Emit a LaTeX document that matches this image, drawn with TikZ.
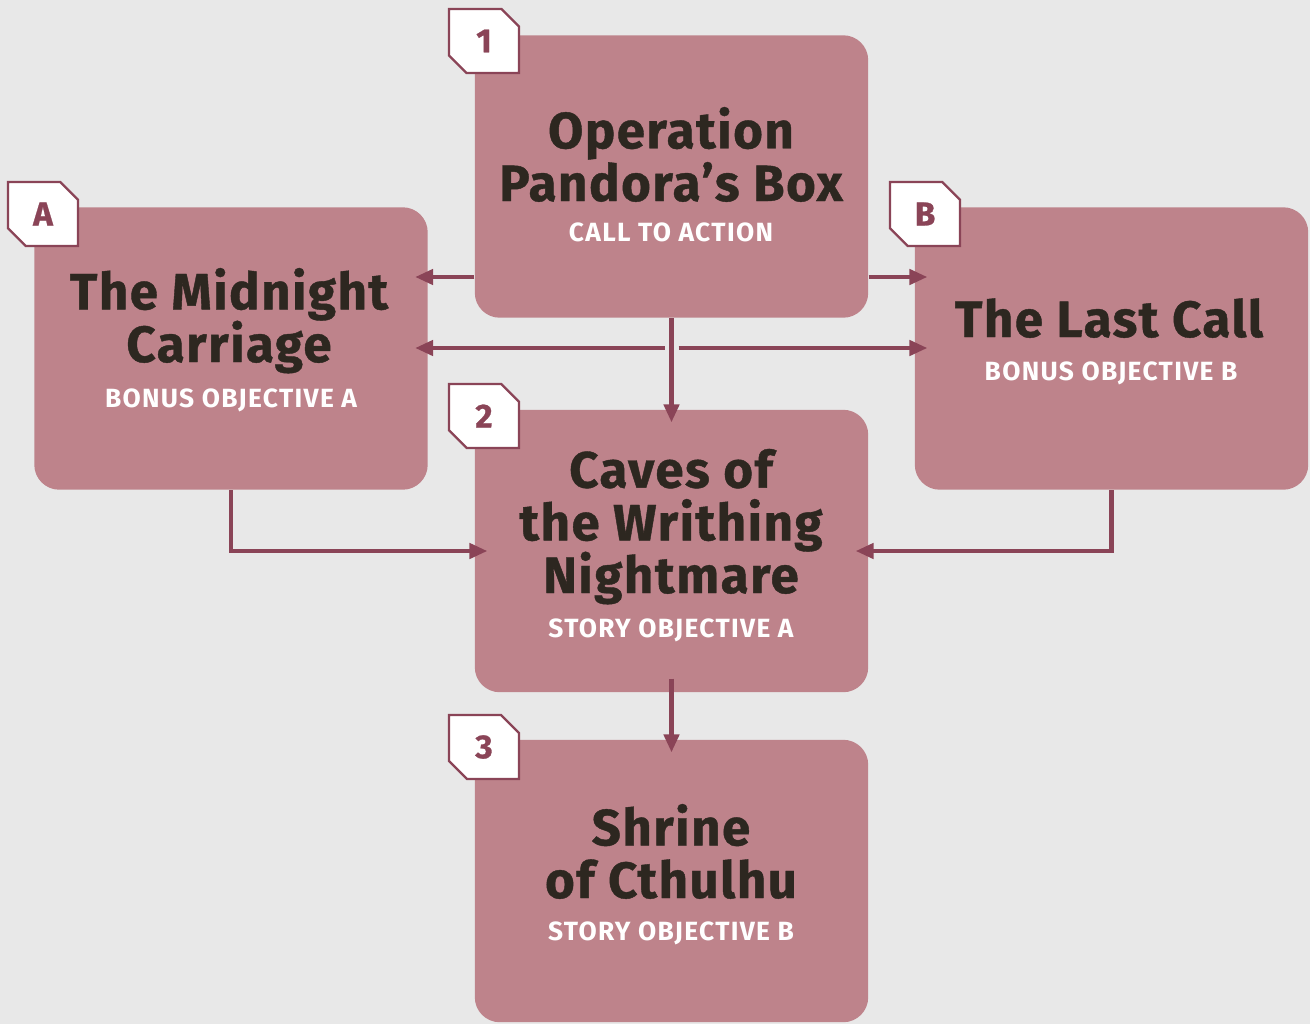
\documentclass[tikz,border=0pt]{standalone}
\usepackage{fontspec}
\setmainfont{Fira Sans}
\newfontfamily\titlefont[LetterSpace=3,BoldFeatures={FakeBold=0.8}]{Fira Sans}
\newfontfamily\subfont[LetterSpace=5]{Fira Sans}
\usetikzlibrary{arrows.meta,shapes.misc,positioning}
\definecolor{rose}{HTML}{BE838B}
\definecolor{wine}{HTML}{8A4457}
\definecolor{ink}{HTML}{2D2720}
\definecolor{paper}{HTML}{E8E8E8}

\tikzset{
  quest/.style={fill=rose, rounded corners=0.5cm, minimum width=7.87cm, minimum height=5.65cm, inner sep=0pt},
  tab/.style={chamfered rectangle, chamfered rectangle corners={north east,south west},
    chamfered rectangle xsep=0.36cm, draw=wine, line width=1.3pt, fill=white,
    minimum width=1.4cm, minimum height=1.28cm, inner sep=0pt, text=wine,
    font=\titlefont\bfseries\fontsize{19}{19}\selectfont},
  ttl/.style={text=ink, font=\titlefont\bfseries\fontsize{29}{30}\selectfont, align=center, inner sep=0pt},
  sub/.style={text=white, font=\subfont\bfseries\fontsize{15}{15}\selectfont, inner sep=0pt},
  link/.style={draw=wine, line width=2.5pt, -{Triangle[length=0.36cm,width=0.3cm]}, shorten >=-0.26cm},
}

\begin{document}
\begin{tikzpicture}[x=0.02cm, y=-0.02cm]
  \fill[paper] (0,0) rectangle (1310,1024);

  % quest boxes
  \node[quest] (call) at (671.5,176.5) {};
  \node[quest] (bonusA) at (231,348.5) {};
  \node[quest] (bonusB) at (1111.5,348.5) {};
  \node[quest] (storyA) at (671.5,551) {};
  \node[quest] (storyB) at (671.5,881) {};

  % connectors
  \coordinate (fork) at (call.south |- 0,348);
  \draw[link] (call.west |- 0,277) -- (bonusA.east |- 0,277);
  \draw[link] (call.east |- 0,277) -- (bonusB.west |- 0,277);
  \draw[link] (call.south) -- (storyA.north);
  \draw[link] ([xshift=-0.14cm]fork) -- (fork -| bonusA.east);
  \draw[link] ([xshift=0.14cm]fork) -- (fork -| bonusB.west);
  \draw[link] (bonusA.south) |- (storyA.west);
  \draw[link] (bonusB.south) |- (storyA.east);
  \draw[link] ([yshift=0.28cm]storyA.south) -- (storyB.north);

  % titles (base = last line)
  \node[ttl, anchor=base] (callT) at (671,201) {Operation\\Pandora’s Box};
  \node[sub, anchor=base] (callS) at (671,241) {CALL TO ACTION};
  \node[ttl, anchor=base] (bonusAT) at (229,362) {The Midnight\\Carriage};
  \node[sub, anchor=base] (bonusAS) at (231,407) {BONUS OBJECTIVE A};
  \node[ttl, anchor=base] (bonusBT) at (1109,337) {The Last Call};
  \node[sub, anchor=base] (bonusBS) at (1111,380) {BONUS OBJECTIVE B};
  \node[ttl, anchor=base] (storyAT) at (671,593) {Caves of\\the Writhing\\Nightmare};
  \node[sub, anchor=base] (storyAS) at (671,637) {STORY OBJECTIVE A};
  \node[ttl, anchor=base] (storyBT) at (671,898) {Shrine\\of Cthulhu};
  \node[sub, anchor=base] (storyBS) at (671,940) {STORY OBJECTIVE B};

  % tabs
  \node[tab] (n1) at (484,41) {1};
  \node[tab] (nA) at (43,214) {A};
  \node[tab] (nB) at (925,214) {B};
  \node[tab] (n2) at (484,416) {2};
  \node[tab] (n3) at (484,747) {3};
\end{tikzpicture}
\end{document}
